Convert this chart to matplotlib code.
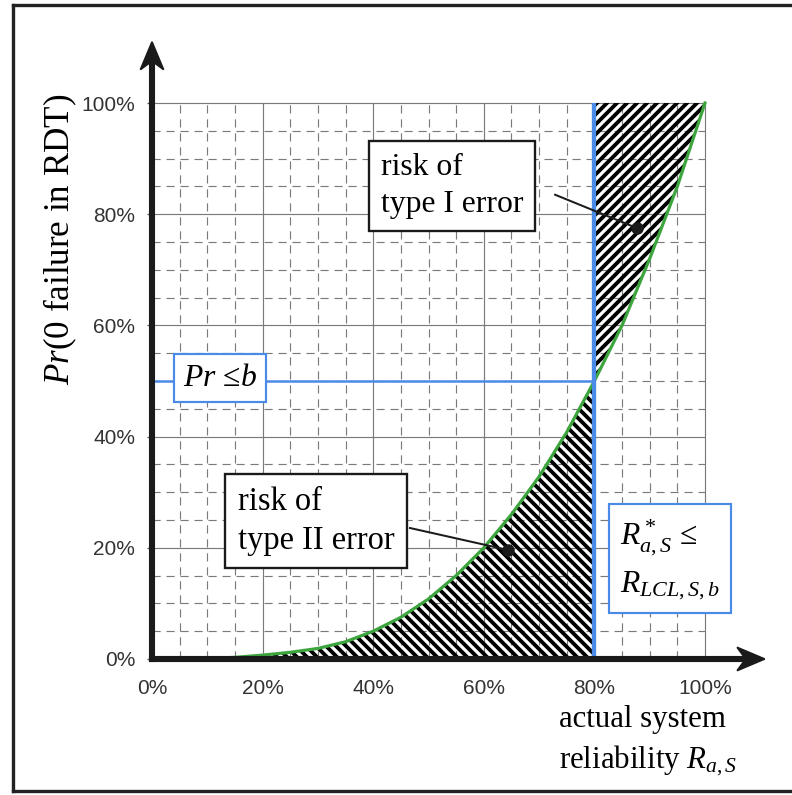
import matplotlib
matplotlib.use('Agg')
import matplotlib.pyplot as plt
from matplotlib.lines import Line2D
import numpy as np

# reliability vs probability of zero failures in the RDT
reliability = [0.0, 0.05, 0.10, 0.15, 0.20, 0.25, 0.30, 0.35, 0.40, 0.45, 0.50,
               0.55, 0.60, 0.65, 0.70, 0.75, 0.80, 0.85, 0.90, 0.95, 1.00]
prob_zero = [0.0, 0.0001, 0.001, 0.003, 0.007, 0.012, 0.019, 0.031, 0.050, 0.075, 0.108,
             0.150, 0.200, 0.260, 0.328, 0.408, 0.500, 0.600, 0.720, 0.850, 1.000]
r_lcl = 0.8        # required lower confidence level
b_level = 0.5      # Pr <= b
tick_vals = [0.0, 0.2, 0.4, 0.6, 0.8, 1.0]
tick_labels = ['0%', '20%', '40%', '60%', '80%', '100%']

plt.rcParams['font.family'] = 'Liberation Serif'
plt.rcParams['mathtext.fontset'] = 'custom'
plt.rcParams['mathtext.rm'] = 'Liberation Serif'
plt.rcParams['mathtext.it'] = 'Liberation Serif:italic'
plt.rcParams['mathtext.bf'] = 'Liberation Serif:bold'
plt.rcParams['hatch.linewidth'] = 2.3

DPI = 120
W, H = 792, 795
fig = plt.figure(figsize=(W / DPI, H / DPI), dpi=DPI)

# pixel geometry of the data square in the picture
x0, x1, y0, y1 = 152, 705, 659, 103
sx, sy = x1 - x0, y0 - y1
xmax, ymax = 1.15, 1.13
ax = fig.add_axes([x0 / W, (H - y0) / H, xmax * sx / W, ymax * sy / H])
ax.set_xlim(0, xmax)
ax.set_ylim(0, ymax)
for s in ax.spines.values():
    s.set_visible(False)

R = np.array(reliability)
P = np.array(prob_zero)

# grid
grey = '#7a7a7a'
minor = np.arange(0.05, 1.0, 0.05)
minor = [m for m in minor if abs(m / 0.2 - round(m / 0.2)) > 1e-6]
ax.hlines(minor, 0, 1, colors=grey, lw=0.7, linestyles=(0, (7, 5)), zorder=1)
ax.vlines(minor, 0, 1, colors=grey, lw=0.7, linestyles=(0, (7, 5)), zorder=1)
ax.hlines(tick_vals[1:], 0, 1, colors=grey, lw=0.7, zorder=1)
ax.vlines(tick_vals[1:], 0, 1, colors=grey, lw=0.7, zorder=1)

# hatched risk areas
m2 = R <= r_lcl
ax.fill_between(R[m2], 0, P[m2], facecolor='none', edgecolor='black',
                linewidth=0, hatch='\\\\\\\\', zorder=2)
m1 = R >= r_lcl
ax.fill_between(R[m1], P[m1], 1, facecolor='none', edgecolor='black',
                linewidth=0, hatch='////', zorder=2)

# operating curve
ax.plot(R, P, color='#3da53d', lw=1.9, zorder=4)

blue = '#4a8be8'
ax.vlines(r_lcl, 0, 1, colors=blue, lw=2.6, zorder=5)
ax.hlines(b_level, 0, r_lcl, colors=blue, lw=1.5, zorder=5)

# axes with arrows
ax.arrow(-0.004, 0, 1.112, 0, width=0.008, head_width=0.042, head_length=0.05,
         overhang=0.25, length_includes_head=True, color='#1a1a1a', clip_on=False, zorder=7)
ax.arrow(0, -0.004, 0, 1.114, width=0.008, head_width=0.042, head_length=0.05,
         overhang=0.25, length_includes_head=True, color='#1a1a1a', clip_on=False, zorder=7)

ax.set_xticks(tick_vals)
ax.set_xticklabels(tick_labels)
ax.set_yticks(tick_vals)
ax.set_yticklabels(tick_labels)
ax.tick_params(axis='x', length=0, pad=12, labelsize=12.5, labelcolor='#333333')
ax.tick_params(axis='y', length=3, width=0.8, color='#555555', pad=7,
               labelsize=12.5, labelcolor='#333333')
for lab in ax.get_xticklabels() + ax.get_yticklabels():
    lab.set_family('Liberation Sans')

# labels
ax.text(-0.166, 0.754, r'$Pr$(0 failure in RDT)', rotation=90, ha='center',
        va='center', fontsize=21)
ax.text(0.736, -0.148, 'actual system\n' + r'reliability $R_{a,S}$', ha='left',
        va='center', fontsize=18.5, linespacing=1.4)

# boxes
ax.text(0.123, 0.505, r'$Pr$ ≤$b$', ha='center', va='center', fontsize=19, zorder=8,
        bbox=dict(boxstyle='square,pad=0.3', facecolor='white', edgecolor=blue, lw=1.3))
ax.text(0.846, 0.178, r'$R^*_{a,S}$ ≤' + '\n' + r'$R_{LCL,S,b}$', ha='left', va='center',
        fontsize=19, linespacing=1.5, zorder=8,
        bbox=dict(boxstyle='square,pad=0.35', facecolor='white', edgecolor=blue, lw=1.3))

ax.plot([0.729, 0.877], [0.835, 0.775], color='#1a1a1a', lw=1.2, zorder=6)
ax.plot([0.877], [0.775], 'o', color='#1a1a1a', ms=6.5, zorder=6)
ax.text(0.414, 0.851, 'risk of\ntype I error', ha='left', va='center', fontsize=19,
        linespacing=1.35, zorder=8,
        bbox=dict(boxstyle='square,pad=0.38', facecolor='white', edgecolor='#1a1a1a', lw=1.4))

ax.plot([0.4665, 0.644], [0.2356, 0.196], color='#1a1a1a', lw=1.2, zorder=6)
ax.plot([0.644], [0.196], 'o', color='#1a1a1a', ms=6.5, zorder=6)
ax.text(0.155, 0.248, 'risk of\ntype II error', ha='left', va='center', fontsize=19.5,
        linespacing=1.35, zorder=8,
        bbox=dict(boxstyle='square,pad=0.38', facecolor='white', edgecolor='#1a1a1a', lw=1.4))

# outer frame (open on the right like the scan)
fc = '#222222'
fig.add_artist(Line2D([13 / W, 1.0], [1 - 5 / H, 1 - 5 / H], color=fc, lw=2))
fig.add_artist(Line2D([13 / W, 13 / W], [1 - 5 / H, 1 - 791 / H], color=fc, lw=2))
fig.add_artist(Line2D([13 / W, 1.0], [1 - 791 / H, 1 - 791 / H], color=fc, lw=2))

fig.savefig('out.png', dpi=DPI)
plt.close(fig)
